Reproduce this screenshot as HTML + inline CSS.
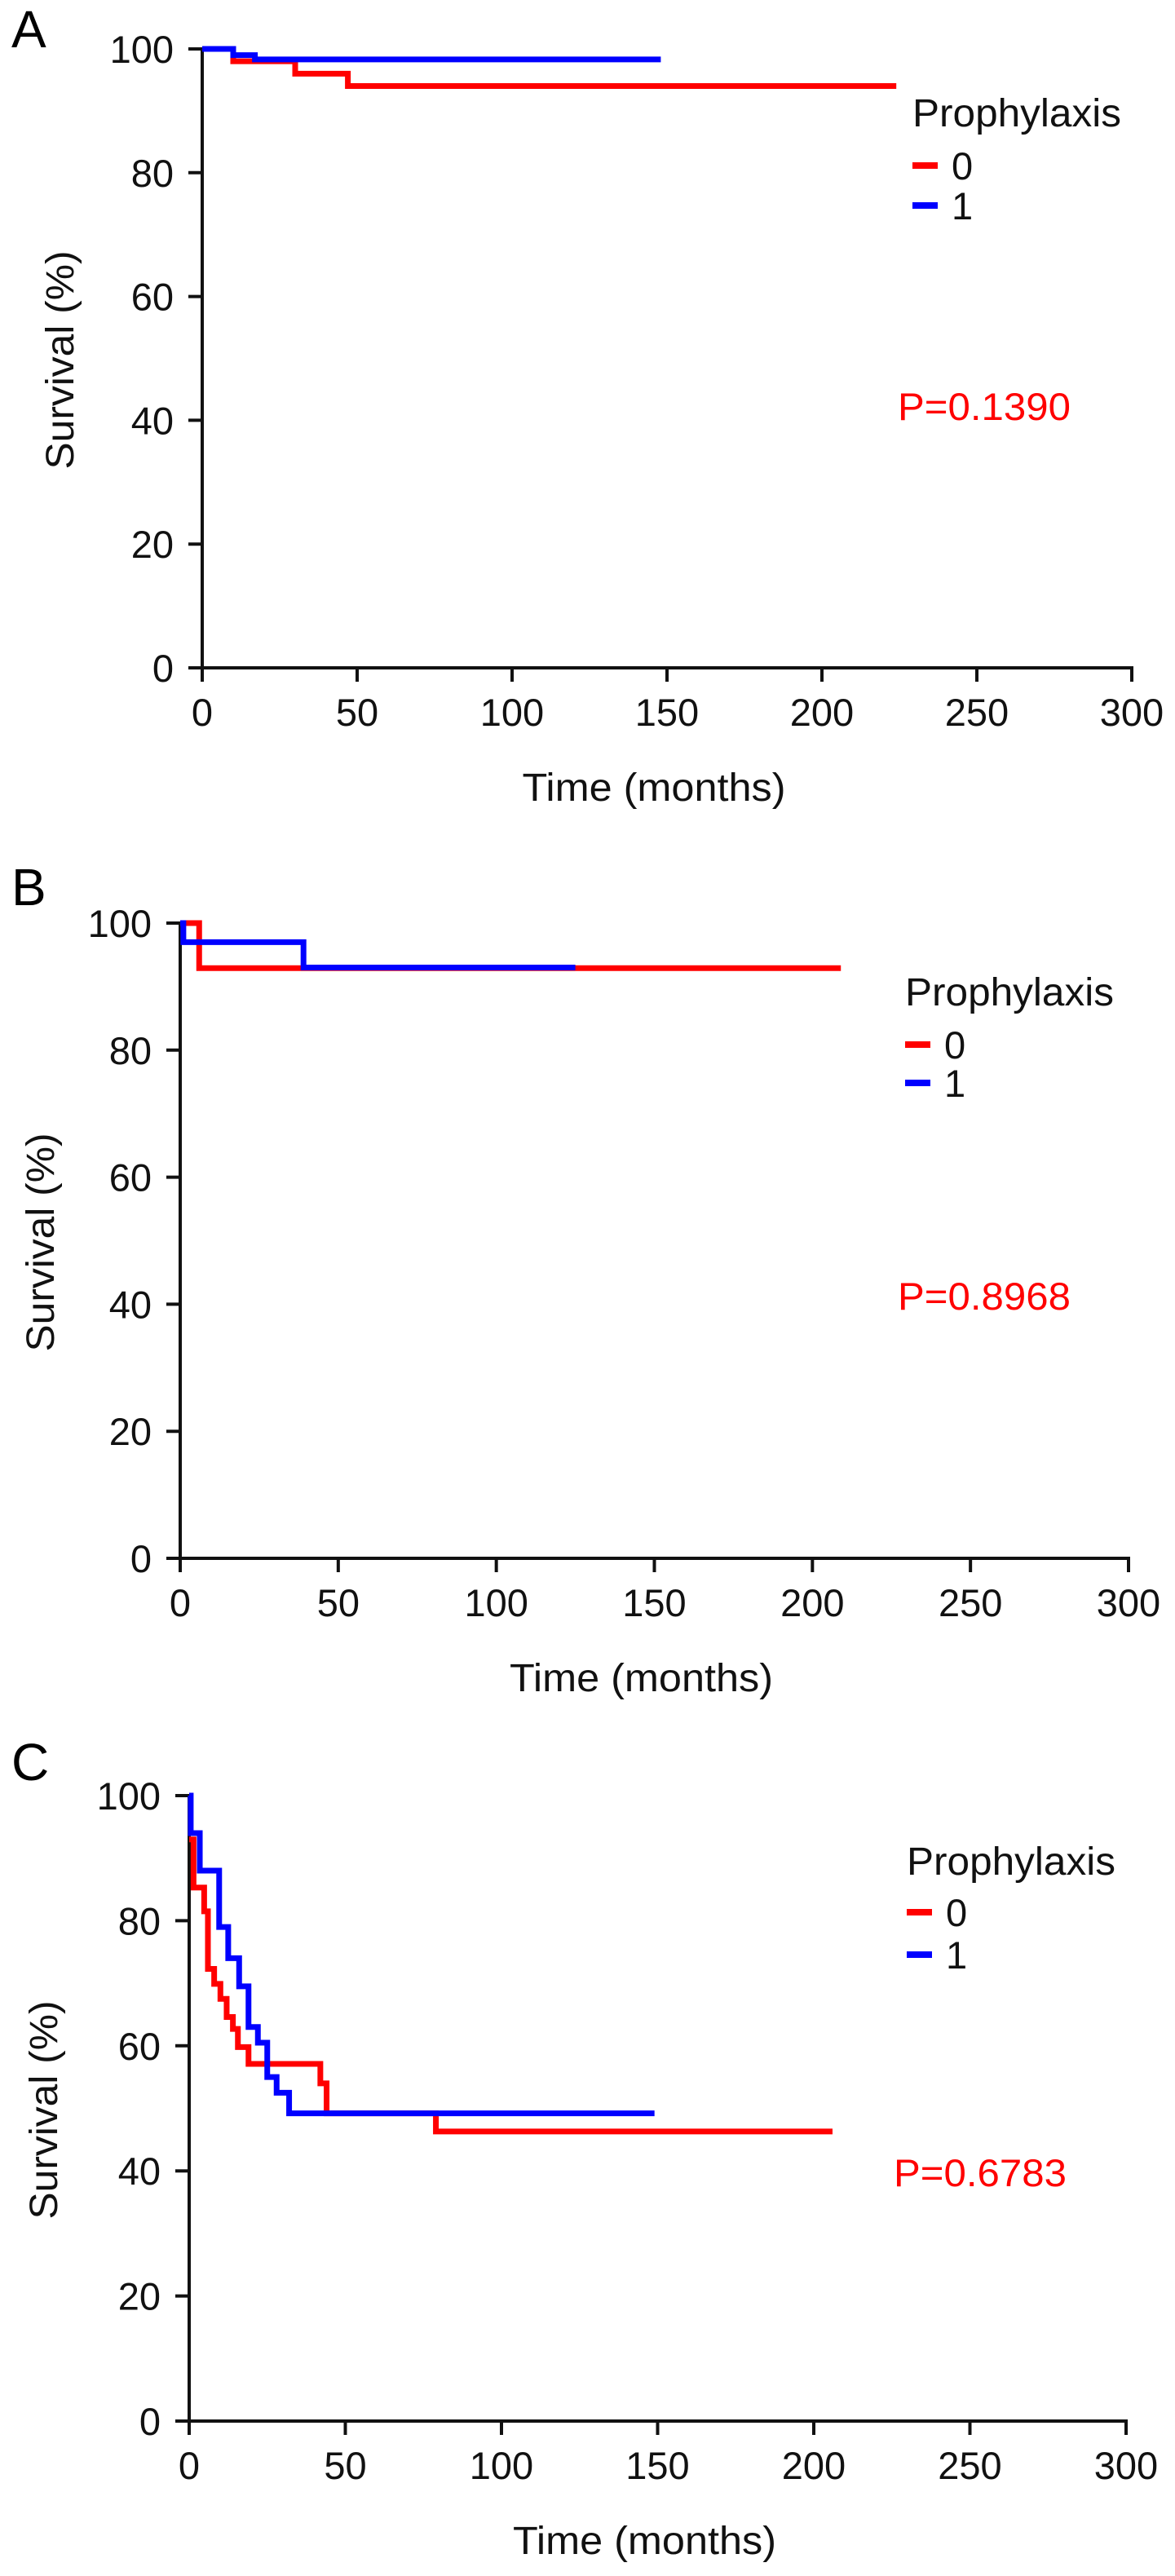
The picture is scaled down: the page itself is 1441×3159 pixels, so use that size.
<!DOCTYPE html>
<html><head><meta charset="utf-8"><style>
html,body{margin:0;padding:0;background:#fff;}
svg{display:block;}
text{font-family:"Liberation Sans",sans-serif;}
</style></head><body>
<svg id="fig" width="1441" height="3159" viewBox="0 0 1441 3159" xmlns="http://www.w3.org/2000/svg"></svg>
<script>
// Panel A data
const aRedT=[0,10,30,47,224];
const aRedS=[100,98,96,94,94];
const aBlueT=[0,10,17,148];
const aBlueS=[100,99,98.3,98.3];
// Panel B data
const bRedT=[0,6,209];
const bRedS=[100,92.9,92.9];
const bBlueT=[0,1,39,125];
const bBlueS=[100,97,93,93];
// Panel C data
const cRedT=[0,0.5,1.4,4.8,6,8,10,12,14,15.6,19,42,44,79,206];
const cRedS=[93,93,85.3,81.5,72.3,69.9,67.5,64.6,62.7,59.8,57.1,54,49.2,46.3,46.3];
const cBlueT=[0,0.5,3.4,9.6,12.5,16,19,22,25,28,32,149];
const cBlueS=[100,94,88,79,74,69.5,63,60.5,55,52.5,49.2,49.2];
const xTicks=[0,50,100,150,200,250,300];
const yTicks=[0,20,40,60,80,100];
const pValues=["P=0.1390","P=0.8968","P=0.6783"];
const panelLetters=["A","B","C"];

const NS="http://www.w3.org/2000/svg";
const svg=document.getElementById('fig');
function mk(tag,attrs,parent){const e=document.createElementNS(NS,tag);for(const k in attrs)e.setAttribute(k,attrs[k]);(parent||svg).appendChild(e);return e;}

const panels=[
 {x0:248,x1:1388,y100:60,y0:819,ylabX:90,letterY:58,legX:1119,legTY:155,leg0:203,leg1:252,pX:1101,pY:515,
  red:[aRedT,aRedS],blue:[aBlueT,aBlueS]},
 {x0:221,x1:1384,y100:1132,y0:1911,ylabX:66,letterY:1110,legX:1110,legTY:1233,leg0:1281,leg1:1328,pX:1101,pY:1606,
  red:[bRedT,bRedS],blue:[bBlueT,bBlueS]},
 {x0:232,x1:1381,y100:2202,y0:2969,ylabX:70,letterY:2183,legX:1112,legTY:2299,leg0:2345,leg1:2397,pX:1096,pY:2681,
  red:[cRedT,cRedS],blue:[cBlueT,cBlueS]}
];

panels.forEach((p,i)=>{
  const g=mk('g',{});
  
  
  const xs=t=>p.x0+(p.x1-p.x0)*t/300;
  const ys=v=>p.y0-(p.y0-p.y100)*v/100;
  const L=mk('text',{x:14,y:p.letterY,'font-size':64,fill:'#000'},g);L.textContent=panelLetters[i];
  
  
  const ya=mk('line',{x1:p.x0,y1:ys(100),x2:p.x0,y2:p.y0,stroke:'#111','stroke-width':4},g);
  
  
  const xa=mk('line',{x1:p.x0-2,y1:p.y0,x2:xs(300)+2,y2:p.y0,stroke:'#111','stroke-width':4},g);
  
  
  xTicks.forEach(t=>{
    mk('line',{x1:xs(t),y1:p.y0,x2:xs(t),y2:p.y0+17,stroke:'#111','stroke-width':4},g);
    const tx=mk('text',{x:xs(t),y:p.y0+71,'font-size':47,'text-anchor':'middle',fill:'#111'},g);tx.textContent=t;
    
    
  });
  yTicks.forEach(v=>{
    mk('line',{x1:p.x0-17,y1:ys(v),x2:p.x0,y2:ys(v),stroke:'#111','stroke-width':4},g);
    const ty=mk('text',{x:p.x0-35,y:ys(v)+17,'font-size':47,'text-anchor':'end',fill:'#111'},g);ty.textContent=v;
    
    
  });
  const xt=mk('text',{x:(p.x0+p.x1)/2-16,y:p.y0+163,'font-size':48,'text-anchor':'middle',fill:'#111',textLength:323,lengthAdjust:'spacingAndGlyphs'},g);xt.textContent='Time (months)';
  
  
  const yc=(p.y0+p.y100)/2+2;
  const yt=mk('text',{x:p.ylabX,y:yc,'font-size':48,'text-anchor':'middle',fill:'#111',textLength:268,lengthAdjust:'spacingAndGlyphs',transform:`rotate(-90 ${p.ylabX} ${yc})`},g);yt.textContent='Survival (%)';
  
  
  [['red','#ff0000'],['blue','#0000ff']].forEach(([k,c])=>{
    const T=p[k][0],S=p[k][1];
    let d='M'+xs(T[0])+','+ys(S[0]);
    for(let j=1;j<T.length;j++){d+=' H'+xs(T[j])+' V'+ys(S[j]);}
    const path=mk('path',{d:d,fill:'none',stroke:c,'stroke-width':7},g);
    
    
  });
  const lt=mk('text',{x:p.legX,y:p.legTY,'font-size':48,fill:'#111',textLength:256,lengthAdjust:'spacingAndGlyphs'},g);lt.textContent='Prophylaxis';
  
  
  [[p.leg0,'#ff0000','0'],[p.leg1,'#0000ff','1']].forEach(([y,c,lab])=>{
    const sw=mk('line',{x1:p.legX,y1:y,x2:p.legX+31,y2:y,stroke:c,'stroke-width':8},g);
    
    
    const te=mk('text',{x:p.legX+48,y:y+17,'font-size':47,fill:'#111'},g);te.textContent=lab;
    
    
  });
  const pv=mk('text',{x:p.pX,y:p.pY,'font-size':47,fill:'#ff0000',textLength:212,lengthAdjust:'spacingAndGlyphs'},g);pv.textContent=pValues[i];
  
  
});
</script>
</body></html>
